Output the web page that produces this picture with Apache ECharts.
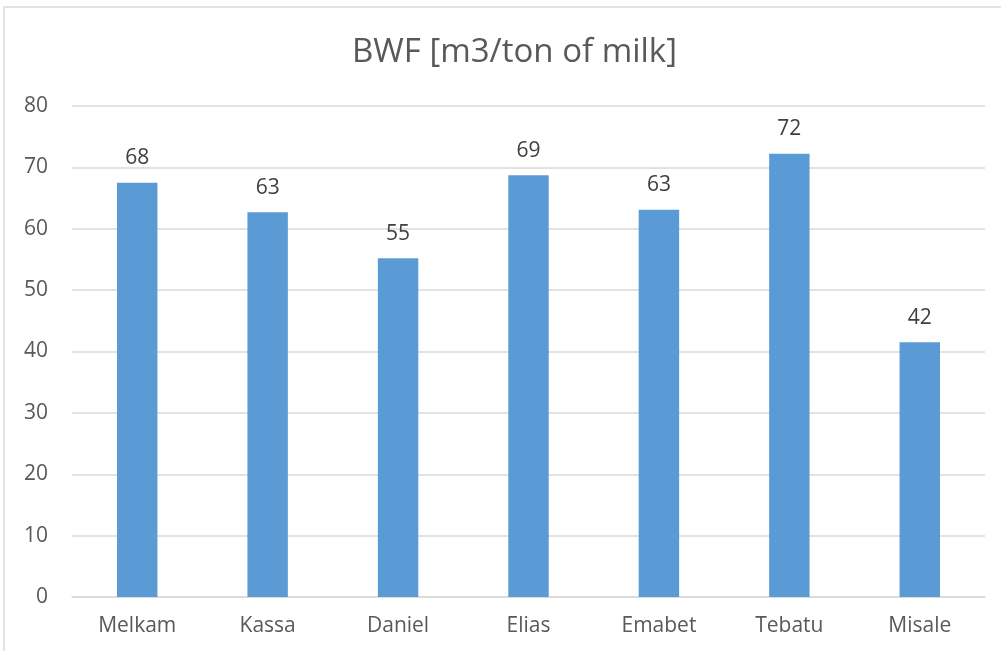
<!DOCTYPE html>
<html>
<head>
<meta charset="utf-8">
<script src="https://cdn.jsdelivr.net/npm/echarts@6/dist/echarts.min.js"></script>
<style>
html, body { margin: 0; padding: 0; background: #fff; }
#main { width: 1001px; height: 651px; }
</style>
</head>
<body>
<div id="main"></div>
<script>
// BWF per farm
var farms = ['Melkam', 'Kassa', 'Daniel', 'Elias', 'Emabet', 'Tebatu', 'Misale'];
var bwfValues = [67.5, 62.7, 55.2, 68.7, 63.1, 72.2, 41.5];
var yTicks = [0, 10, 20, 30, 40, 50, 60, 70, 80];

var chart = echarts.init(document.getElementById('main'));
var option = {
	backgroundColor: '#fff',
	animation: false,
	title: {
		text: 'BWF [m3/ton of milk]',
		left: 347,
		top: 31,
		textStyle: {
			fontFamily: 'Open Sans',
			fontSize: 33,
			fontWeight: 'normal',
			color: '#595959'
		}
	},
	graphic: [{
		type: 'rect',
		shape: { x: 4, y: 7, width: 1020, height: 680 },
		style: { fill: 'none', stroke: '#d9d9d9', lineWidth: 1.5 },
		silent: true
	}],
	grid: {
		left: 72,
		right: 16,
		top: 106,
		bottom: 54,
		containLabel: false
	},
	xAxis: {
		type: 'category',
		data: farms,
		axisLine: { lineStyle: { color: '#d9d9d9', width: 1.5 } },
		axisTick: { show: false },
		axisLabel: {
			margin: 19,
			fontFamily: 'Open Sans',
			fontSize: 21,
			color: '#595959'
		}
	},
	yAxis: {
		type: 'value',
		min: yTicks[0],
		max: yTicks[yTicks.length - 1],
		interval: 10,
		axisLine: { show: false },
		axisTick: { show: false },
		splitLine: { lineStyle: { color: '#d9d9d9', width: 1.5 } },
		axisLabel: {
			margin: 24,
			fontFamily: 'Open Sans',
			fontSize: 21,
			color: '#595959'
		}
	},
	series: [{
		type: 'bar',
		data: bwfValues,
		barWidth: '31%',
		itemStyle: { color: '#5b9bd5' },
		label: {
			show: true,
			position: 'top',
			distance: 14,
			fontFamily: 'Open Sans',
			fontSize: 21,
			color: '#404040',
			formatter: function (p) { return Math.round(p.value); }
		}
	}]
};
chart.setOption(option);
</script>
</body>
</html>
